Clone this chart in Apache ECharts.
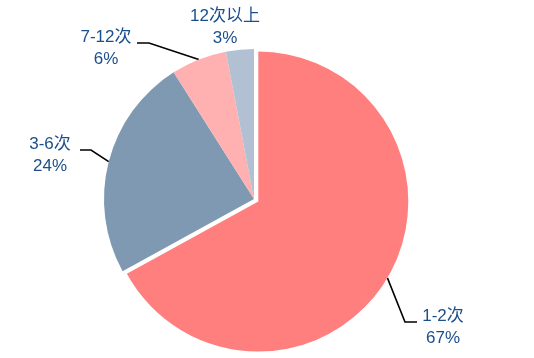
<!DOCTYPE html>
<html>
<head>
<meta charset="utf-8">
<script src="https://cdn.jsdelivr.net/npm/echarts@6/dist/echarts.min.js"></script>
<style>html,body{margin:0;padding:0;background:#fff}#c{width:534px;height:358px}</style>
</head>
<body>
<div id="c"></div>
<script>
const categories = ['1-2次', '3-6次', '7-12次', '12次以上'];
const percents = [67, 24, 6, 3];

const palette = ['#FF7F7F', '#7F99B2', '#FFB1B1', '#B1C1D3'];
const labelPos = [
  {x: 443, y: 327, elbow: [405, 322], end: [417, 322]},
  {x: 50, y: 155, elbow: [91, 150], end: [80, 150]},
  {x: 106, y: 48, elbow: [149, 43], end: [137, 43]},
  {x: 225, y: 27, elbow: null, end: null}
];
const CX = 254, CY = 199, R = 150, OFFSET = 5;

// explode offset of first slice, derived from its share
const total = percents.reduce((a, b) => a + b, 0);
const midDeg = 90 - (percents[0] / total) * 360 / 2;
const dx = Math.cos(midDeg * Math.PI / 180) * OFFSET;
const dy = -Math.sin(midDeg * Math.PI / 180) * OFFSET;
const clear = 'rgba(0,0,0,0)';

const chart = echarts.init(document.getElementById('c'), null, {renderer: 'canvas'});
chart.setOption({
  animation: false,
  series: [{
    type: 'pie',
    center: [CX, CY],
    radius: R,
    startAngle: 90,
    clockwise: true,
    silent: true,
    avoidLabelOverlap: false,
    label: {
      show: true,
      position: 'outside',
      formatter: p => p.name + '\n' + p.value + '%',
      color: '#1B4F8C',
      fontSize: 17,
      lineHeight: 22,
      fontFamily: '"Liberation Sans", Arial, "Noto Sans CJK SC", sans-serif',
      align: 'center'
    },
    labelLine: {show: true, length: 10, length2: 10, lineStyle: {color: '#000', width: 1.6}},
    labelLayout: function (p) {
      const L = labelPos[p.dataIndex];
      const res = {x: L.x, y: L.y, align: 'center', verticalAlign: 'middle'};
      if (p.labelLinePoints && L.elbow) {
        let s = p.labelLinePoints[0];
        if (p.dataIndex === 0) s = [s[0] + dx, s[1] + dy];
        res.labelLinePoints = [s, L.elbow, L.end];
      }
      return res;
    },
    data: categories.map((c, i) => ({
      name: c,
      value: percents[i],
      itemStyle: {color: i === 0 ? clear : palette[i]},
      labelLine: {show: i !== 3}
    }))
  }, {
    type: 'pie',
    center: [CX + dx, CY + dy],
    radius: R,
    startAngle: 90,
    clockwise: true,
    silent: true,
    label: {show: false},
    labelLine: {show: false},
    data: [
      {name: categories[0], value: percents[0], itemStyle: {color: palette[0]}},
      {name: 'rest', value: total - percents[0], itemStyle: {color: clear}}
    ]
  }]
});
</script>
</body>
</html>
